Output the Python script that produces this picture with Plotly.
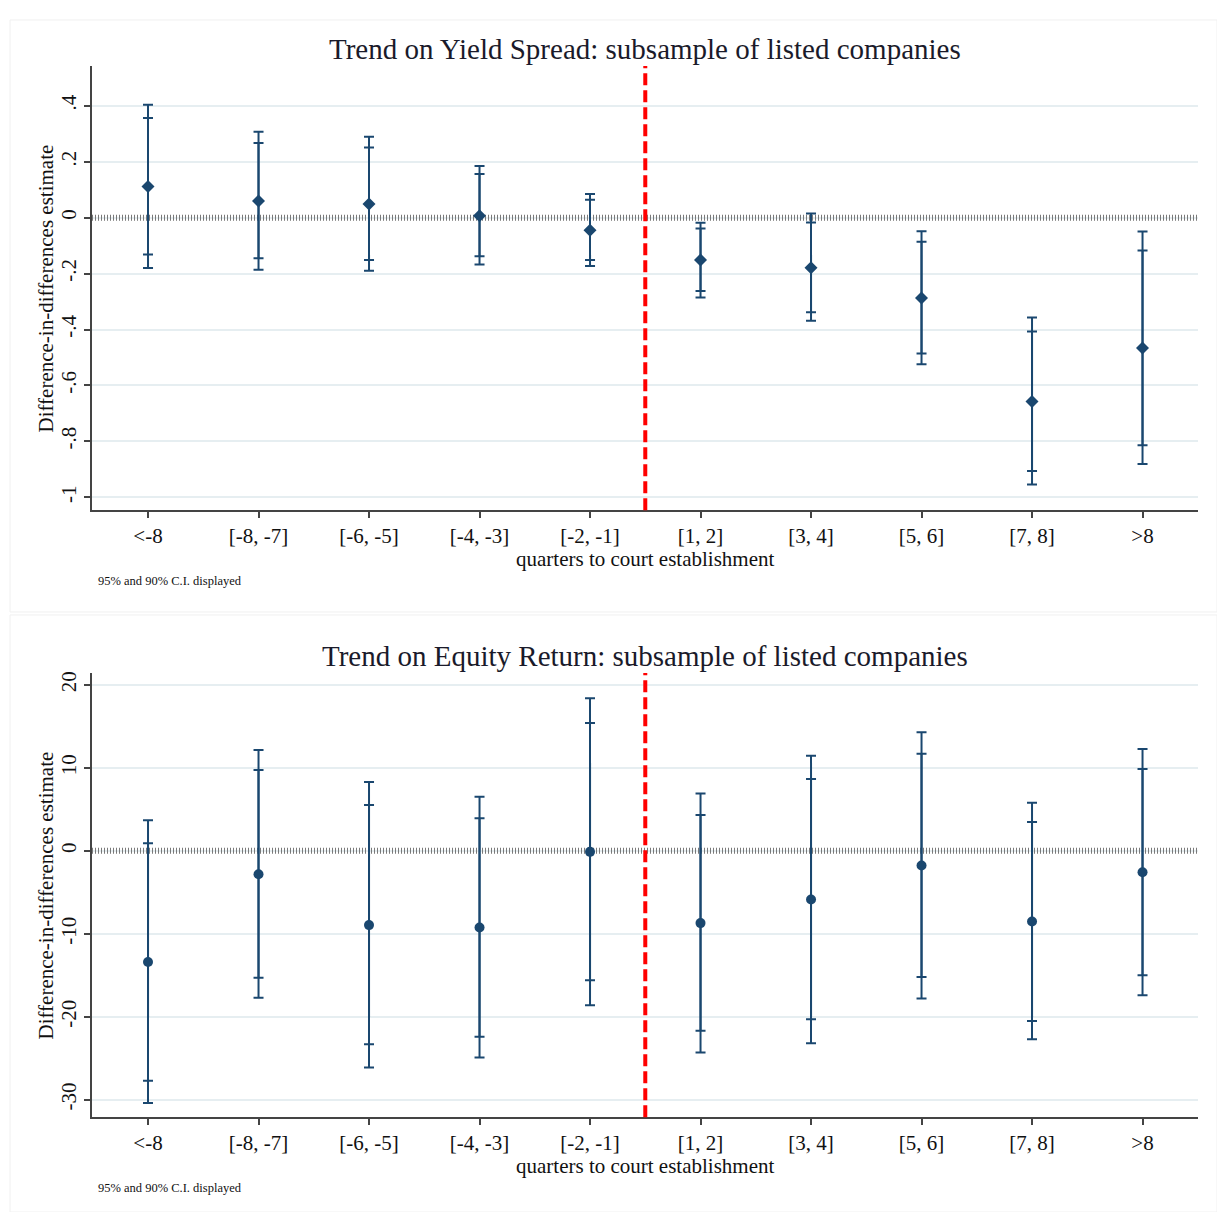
import plotly.graph_objects as go

categories = ["<-8", "[-8, -7]", "[-6, -5]", "[-4, -3]", "[-2, -1]",
              "[1, 2]", "[3, 4]", "[5, 6]", "[7, 8]", ">8"]

# Panel 1: Yield spread
ys_est = [0.112, 0.060, 0.049, 0.007, -0.045, -0.151, -0.179, -0.287, -0.657, -0.466]
ys_hi95 = [0.404, 0.307, 0.290, 0.185, 0.085, -0.018, 0.015, -0.048, -0.357, -0.049]
ys_hi90 = [0.357, 0.267, 0.251, 0.156, 0.064, -0.039, -0.017, -0.086, -0.407, -0.117]
ys_lo90 = [-0.132, -0.145, -0.151, -0.138, -0.151, -0.262, -0.338, -0.486, -0.906, -0.814]
ys_lo95 = [-0.180, -0.186, -0.190, -0.167, -0.173, -0.285, -0.369, -0.524, -0.954, -0.881]

# Panel 2: Equity return
eq_est = [-13.4, -2.81, -8.95, -9.23, -0.12, -8.71, -5.86, -1.77, -8.51, -2.57]
eq_hi95 = [3.68, 12.15, 8.30, 6.53, 18.4, 6.90, 11.47, 14.3, 5.81, 12.27]
eq_hi90 = [0.92, 9.75, 5.54, 3.93, 15.4, 4.33, 8.66, 11.7, 3.49, 9.87]
eq_lo90 = [-27.7, -15.3, -23.3, -22.4, -15.6, -21.7, -20.3, -15.2, -20.5, -15.0]
eq_lo95 = [-30.4, -17.7, -26.1, -24.9, -18.6, -24.3, -23.2, -17.8, -22.7, -17.4]

ys_tickvals = [0.4, 0.2, 0, -0.2, -0.4, -0.6, -0.8, -1.0]
ys_ticktext = [".4", ".2", "0", "-.2", "-.4", "-.6", "-.8", "-1"]
eq_tickvals = [20, 10, 0, -10, -20, -30]
eq_ticktext = ["20", "10", "0", "-10", "-20", "-30"]

event_line = 4.5
ref_value = 0

titles = ["Trend on Yield Spread: subsample of listed companies",
          "Trend on Equity Return: subsample of listed companies"]
xtitle = "quarters to court establishment"
ytitle = "Difference-in-differences estimate"
note = "95% and 90% C.I. displayed"

NAVY = "#1a476f"
FONT = "Liberation Serif"
W, H = 1217, 1212

xpos = list(range(len(categories)))
x_range = [-0.507, 9.502]

fig = go.Figure()


def add_panel(est, hi95, hi90, lo90, lo95, symbol, xa, ya):
    # reference line at zero (dotted)
    fig.add_trace(go.Scatter(
        x=x_range, y=[ref_value, ref_value], mode="lines", xaxis=xa, yaxis=ya,
        line=dict(color="#7a7a7a", width=6, dash="1px,2px"),
        showlegend=False, hoverinfo="skip"))
    fig.add_trace(go.Scatter(
        x=xpos, y=est, mode="markers", xaxis=xa, yaxis=ya,
        marker=dict(size=10, color=NAVY, symbol=symbol, opacity=0),
        error_y=dict(type="data", symmetric=False,
                     array=[h - e for h, e in zip(hi95, est)],
                     arrayminus=[e - l for e, l in zip(est, lo95)],
                     width=5, thickness=2, color=NAVY),
        showlegend=False, hoverinfo="skip"))
    fig.add_trace(go.Scatter(
        x=xpos, y=est, mode="markers", xaxis=xa, yaxis=ya,
        marker=dict(size=10, color=NAVY, symbol=symbol),
        error_y=dict(type="data", symmetric=False,
                     array=[h - e for h, e in zip(hi90, est)],
                     arrayminus=[e - l for e, l in zip(est, lo90)],
                     width=5, thickness=2, color=NAVY),
        showlegend=False))


add_panel(ys_est, ys_hi95, ys_hi90, ys_lo90, ys_lo95, "diamond", "x", "y")
add_panel(eq_est, eq_hi95, eq_hi90, eq_lo90, eq_lo95, "circle", "x2", "y2")


def py(pix):
    return 1 - pix / H


def px(pix):
    return pix / W


xdom = [px(92), px(1198)]
top_dom = [py(509), py(64)]
bot_dom = [py(1117), py(672)]

axis_common = dict(showline=True, linecolor="#444444", linewidth=1.5,
                   ticks="outside", ticklen=6, tickcolor="#444444", tickwidth=1.5,
                   tickfont=dict(family=FONT, size=21, color="#111111"),
                   zeroline=False)

xaxis_cfg = dict(axis_common, range=x_range, tickvals=xpos, ticktext=categories,
                 showgrid=False, domain=xdom, ticklabelstandoff=0)

fig.update_layout(
    width=W, height=H,
    margin=dict(l=0, r=0, t=0, b=0),
    paper_bgcolor="white", plot_bgcolor="white",
    font=dict(family=FONT, color="#111111"),
    xaxis=dict(xaxis_cfg, anchor="y"),
    xaxis2=dict(xaxis_cfg, anchor="y2"),
    yaxis=dict(axis_common, range=[-1.046, 0.543], tickvals=ys_tickvals, ticktext=ys_ticktext,
               tickangle=-90, showgrid=True, gridcolor="#e6eef1", gridwidth=1.5,
               domain=top_dom, anchor="x"),
    yaxis2=dict(axis_common, range=[-32.1, 21.45], tickvals=eq_tickvals, ticktext=eq_ticktext,
                tickangle=-90, showgrid=True, gridcolor="#e6eef1", gridwidth=1.5,
                domain=bot_dom, anchor="x2"),
)

shapes = []
# panel frames
shapes.append(dict(type="rect", xref="paper", yref="paper", x0=px(10), x1=1, y0=py(611), y1=py(18),
                   line=dict(color="#f0f0f0", width=1), layer="below"))
shapes.append(dict(type="rect", xref="paper", yref="paper", x0=px(10), x1=1, y0=0, y1=py(614),
                   line=dict(color="#f0f0f0", width=1), layer="below"))
for xr, yr, dom in [("x", "y", top_dom), ("x2", "y2", bot_dom)]:
    shapes.append(dict(type="line", xref=xr, yref="paper", x0=event_line, x1=event_line,
                       y0=dom[0], y1=dom[1], line=dict(color="#ff0000", width=4, dash="12px,5px"),
                       layer="above"))
fig.update_layout(shapes=shapes)

ann = []
for title, ty, xty, noty, yty in [(titles[0], 47, 558, 580, 287),
                                   (titles[1], 655, 1166, 1188, 895)]:
    ann.append(dict(text=title, x=px(645), y=py(ty), xref="paper", yref="paper",
                    showarrow=False, xanchor="center", yanchor="middle",
                    font=dict(family=FONT, size=29, color="#1a1a2a")))
    ann.append(dict(text=xtitle, x=px(645), y=py(xty), xref="paper", yref="paper",
                    showarrow=False, xanchor="center", yanchor="middle",
                    font=dict(family=FONT, size=21, color="#111111")))
    ann.append(dict(text=note, x=px(96), y=py(noty), xref="paper", yref="paper",
                    showarrow=False, xanchor="left", yanchor="middle",
                    font=dict(family=FONT, size=12.5, color="#111111")))
    ann.append(dict(text=ytitle, x=px(46), y=py(yty), xref="paper", yref="paper",
                    showarrow=False, xanchor="center", yanchor="middle", textangle=-90,
                    font=dict(family=FONT, size=21, color="#111111")))
fig.update_layout(annotations=ann)

fig.write_html("out.html")
